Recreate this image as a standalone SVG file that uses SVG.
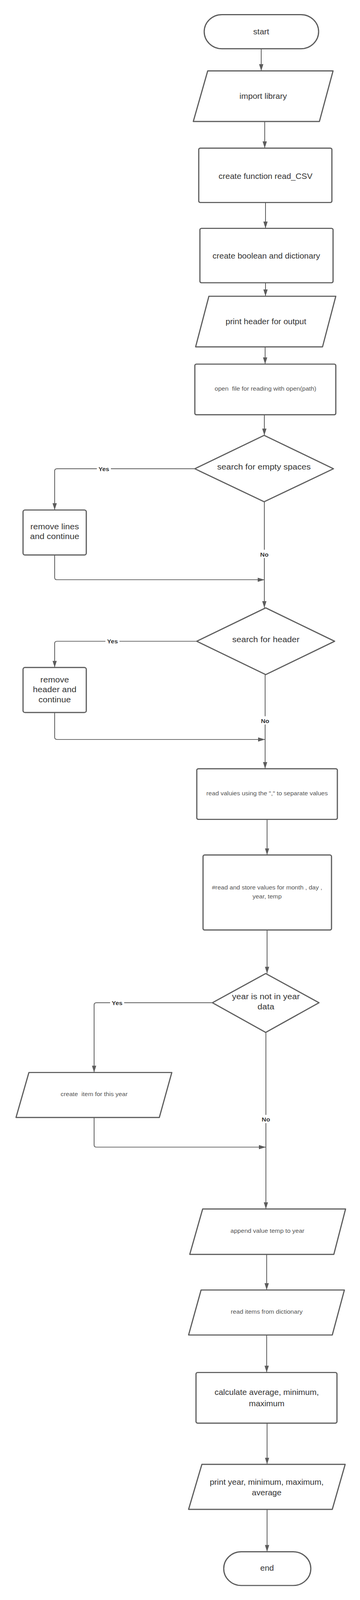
<svg xmlns="http://www.w3.org/2000/svg" width="922" height="4270" viewBox="0 0 922 4270">
<defs>
<style>
.s{fill:#fff;stroke:#5c5c5c;stroke-width:3;stroke-linejoin:round}
.c{fill:none;stroke:#5c5c5c;stroke-width:2;stroke-linejoin:round}
.t{font-family:"Liberation Sans",Arial,sans-serif;font-size:21px;fill:#333;text-anchor:middle}
.tb{font-size:22px}
.sm{font-family:"Liberation Sans",Arial,sans-serif;font-size:16px;fill:#555;text-anchor:middle;white-space:pre}
.lb{font-family:"Liberation Sans",Arial,sans-serif;font-size:16px;font-weight:bold;fill:#333;text-anchor:middle}
.bg{fill:#fff}
</style>
<marker id="arr" markerWidth="18" markerHeight="12" refX="18" refY="6" orient="auto" markerUnits="userSpaceOnUse">
<path d="M0,0.5 L18,6 L0,11.5 z" fill="#5c5c5c"/>
</marker>
</defs>
<rect width="922" height="4270" fill="#fff"/>
<g id="diagram" transform="matrix(1,0,0,0.96,0,0)">
<g id="connectors">
<path class="c" d="M669,130 V189" marker-end="url(#arr)"/>
<path class="c" d="M678,324 V395" marker-end="url(#arr)"/>
<path class="c" d="M680,540 V609" marker-end="url(#arr)"/>
<path class="c" d="M680,754 V790" marker-end="url(#arr)"/>
<path class="c" d="M679,925 V971" marker-end="url(#arr)"/>
<path class="c" d="M677,1106 V1161" marker-end="url(#arr)"/>
<path class="c" d="M499,1250 H146 Q140,1250 140,1256 V1360" marker-end="url(#arr)"/>
<path class="c" d="M140,1480 V1540 Q140,1546 146,1546 H678" marker-end="url(#arr)"/>
<path class="c" d="M677,1338 V1621" marker-end="url(#arr)"/>
<path class="c" d="M504,1710 H146 Q140,1710 140,1716 V1780" marker-end="url(#arr)"/>
<path class="c" d="M140,1900 V1966 Q140,1972 146,1972 H679" marker-end="url(#arr)"/>
<path class="c" d="M679,1799 V2050" marker-end="url(#arr)"/>
<path class="c" d="M684,2185 V2280" marker-end="url(#arr)"/>
<path class="c" d="M684,2480 V2596" marker-end="url(#arr)"/>
<path class="c" d="M544,2674 H247 Q241,2674 241,2680 V2860" marker-end="url(#arr)"/>
<path class="c" d="M241,2980 V3053 Q241,3059 247,3059 H681" marker-end="url(#arr)"/>
<path class="c" d="M681,2753 V3224" marker-end="url(#arr)"/>
<path class="c" d="M683,3345 V3440" marker-end="url(#arr)"/>
<path class="c" d="M683,3560 V3660" marker-end="url(#arr)"/>
<path class="c" d="M684,3795 V3905" marker-end="url(#arr)"/>
<path class="c" d="M684,4025 V4138" marker-end="url(#arr)"/>
<rect class="bg" x="248" y="1240" width="36" height="20"/>
<text class="lb" x="266" y="1256">Yes</text>
<rect class="bg" x="663" y="1466" width="28" height="22"/>
<text class="lb" x="677" y="1484">No</text>
<rect class="bg" x="270" y="1700" width="36" height="20"/>
<text class="lb" x="288" y="1716">Yes</text>
<rect class="bg" x="665" y="1910" width="28" height="22"/>
<text class="lb" x="679" y="1928">No</text>
<rect class="bg" x="282" y="2664" width="36" height="20"/>
<text class="lb" x="300" y="2680">Yes</text>
<rect class="bg" x="667" y="2973" width="28" height="22"/>
<text class="lb" x="681" y="2991">No</text>
</g>

<g id="start">
<rect class="s" x="523" y="39" width="293" height="91" rx="45.5"/>
<text class="t" x="669" y="92">start</text>
</g>
<g id="import-library">
<polygon class="s" points="532,189 853,189 818,324 495,324"/>
<text class="t" x="674" y="264">import library</text>
</g>
<g id="create-function">
<rect class="s" x="509" y="395" width="341" height="145" rx="4"/>
<text class="t" x="680" y="477">create function read_CSV</text>
</g>
<g id="create-boolean">
<rect class="s" x="512" y="609" width="341" height="145" rx="4"/>
<text class="t" x="682" y="690">create boolean and dictionary</text>
</g>
<g id="print-header">
<polygon class="s" points="535,790 860,790 826,925 501,925"/>
<text class="t" x="681" y="865">print header for output</text>
</g>
<g id="open-file">
<rect class="s" x="499" y="971" width="361" height="135" rx="4"/>
<text class="sm" x="680" y="1042">open  file for reading with open(path)</text>
</g>
<g id="search-empty">
<polygon class="s" points="676.5,1161 854,1250 676.5,1338 499,1250"/>
<text class="t tb" x="676" y="1252">search for empty spaces</text>
</g>
<g id="remove-lines">
<rect class="s" x="59" y="1360" width="162" height="120" rx="5"/>
<text class="t tb" x="140" y="1411">remove lines</text>
<text class="t tb" x="140" y="1437">and continue</text>
</g>
<g id="search-header">
<polygon class="s" points="680.5,1621 857,1710 680.5,1799 504,1710"/>
<text class="t tb" x="681" y="1712">search for header</text>
</g>
<g id="remove-header">
<rect class="s" x="59" y="1780" width="162" height="120" rx="5"/>
<text class="t tb" x="140" y="1820">remove</text>
<text class="t tb" x="140" y="1846">header and</text>
<text class="t tb" x="140" y="1873">continue</text>
</g>
<g id="read-values">
<rect class="s" x="504" y="2050" width="360" height="135" rx="4"/>
<text class="sm" x="684" y="2121">read valuies using the "," to separate values</text>
</g>
<g id="read-store">
<rect class="s" x="520" y="2280" width="329" height="200" rx="4"/>
<text class="sm" x="684" y="2372">#read and store values for month , day ,</text>
<text class="sm" x="684" y="2396">year, temp</text>
</g>
<g id="year-not-in">
<polygon class="s" points="680.5,2596 817,2674 680.5,2753 544,2674"/>
<text class="t tb" x="681" y="2665">year is not in year</text>
<text class="t tb" x="681" y="2692">data</text>
</g>
<g id="create-item">
<polygon class="s" points="74,2860 440,2860 408,2980 41,2980"/>
<text class="sm" x="241" y="2923">create  item for this year</text>
</g>
<g id="append-value">
<polygon class="s" points="519,3224 885,3224 855,3345 486,3345"/>
<text class="sm" x="685" y="3288">append value temp to year</text>
</g>
<g id="read-items">
<polygon class="s" points="515,3440 882,3440 851,3560 483,3560"/>
<text class="sm" x="683" y="3503">read items from dictionary</text>
</g>
<g id="calculate">
<rect class="s" x="502" y="3660" width="361" height="135" rx="4"/>
<text class="t" x="683" y="3720">calculate average, minimum,</text>
<text class="t" x="683" y="3750">maximum</text>
</g>
<g id="print-year">
<polygon class="s" points="517,3905 884,3905 851,4025 483,4025"/>
<text class="t" x="683" y="3959">print year, minimum, maximum,</text>
<text class="t" x="683" y="3988">average</text>
</g>
<g id="end">
<rect class="s" x="573" y="4138" width="223" height="90" rx="45"/>
<text class="t" x="684" y="4189">end</text>
</g>
</g>
</svg>
